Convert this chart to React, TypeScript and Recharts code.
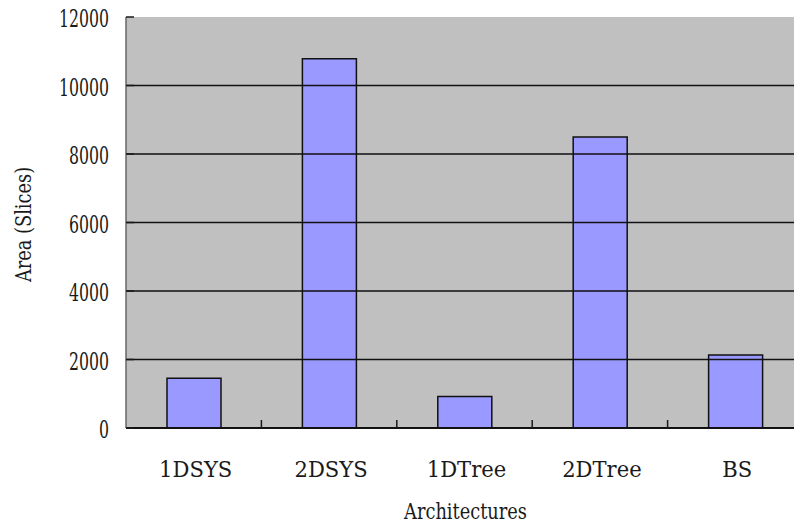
import { Bar, BarChart, CartesianGrid, Label, ReferenceLine, XAxis, YAxis } from "recharts"

const architectures = ["1DSYS", "2DSYS", "1DTree", "2DTree", "BS"]
const slices = [1450, 10780, 920, 8500, 2130]
const yTicks = [0, 2000, 4000, 6000, 8000, 10000, 12000]
const gridValues = [2000, 4000, 6000, 8000, 10000]

const data = architectures.map((name, i) => ({ name, slices: slices[i] }))

const FONT = "DejaVu Serif Condensed, DejaVu Serif, serif"
const INK = "#1a1a1a"

// narrow, tall serif text: condensed serif squeezed horizontally
const NarrowText = ({ x, y, size, sx, anchor = "middle", rotate = 0, children }: any) => (
  <text
    transform={`translate(${x},${y}) rotate(${rotate}) scale(${sx},1)`}
    textAnchor={anchor}
    fontFamily={FONT}
    fontSize={size}
    fill={INK}
  >
    {children}
  </text>
)

// y tick: label plus a short inward tick mark on the plot side
const YTick = (props: any) => {
  const { x, y, payload } = props
  const axisX = x + 18
  return (
    <g>
      <NarrowText x={x + 1} y={y + 10} size={25} sx={0.7} anchor="end">
        {payload.value}
      </NarrowText>
      <line x1={axisX} y1={y} x2={axisX + 8} y2={y} stroke={INK} strokeWidth={1.5} />
    </g>
  )
}

// x tick: category label plus an inward tick at the right edge of each band
const XTick = (props: any) => {
  const { x, y, payload, index, visibleTicksCount } = props
  const axisY = y - 31
  const edge = x + (payload.offset ?? 67.7)
  return (
    <g>
      <NarrowText x={x + 2} y={axisY + 49} size={23} sx={1.02}>
        {payload.value}
      </NarrowText>
      {index < visibleTicksCount - 1 && (
        <line x1={edge} y1={axisY} x2={edge} y2={axisY - 8} stroke={INK} strokeWidth={1.5} />
      )}
    </g>
  )
}

const XTitle = (props: any) => {
  const { viewBox } = props
  const cx = viewBox.x + viewBox.width / 2
  return (
    <NarrowText x={cx + 1} y={519} size={23} sx={0.86}>
      Architectures
    </NarrowText>
  )
}

const YTitle = (props: any) => {
  const { viewBox } = props
  const cy = viewBox.y + viewBox.height / 2
  return (
    <NarrowText x={31} y={cy + 2} size={23} sx={0.86} rotate={-90}>
      Area (Slices)
    </NarrowText>
  )
}

export default function App() {
  return (
    <div style={{ position: "absolute", left: 0, top: 0, width: 794, height: 525, overflow: "hidden", background: "#fff" }}>
      <BarChart
        width={803}
        height={525}
        data={data}
        margin={{ top: 17, right: 0, bottom: 0, left: 0 }}
        barSize={54}
      >
        <CartesianGrid horizontal={false} vertical={false} fill="#C0C0C0" />
        {gridValues.map((v) => (
          <ReferenceLine key={v} y={v} stroke="#111" strokeWidth={1.3} />
        ))}
        <XAxis
          dataKey="name"
          height={97}
          tickLine={false}
          tickSize={0}
          tickMargin={31}
          axisLine={{ stroke: "#111", strokeWidth: 2 }}
          tick={<XTick />}
        >
          <Label content={<XTitle />} />
        </XAxis>
        <YAxis
          width={126}
          domain={[0, 12000]}
          ticks={yTicks}
          tickLine={false}
          tickSize={0}
          tickMargin={18}
          axisLine={{ stroke: "#666", strokeWidth: 1.5 }}
          tick={<YTick />}
        >
          <Label content={<YTitle />} />
        </YAxis>
        <Bar dataKey="slices" fill="#9999FF" stroke="#111" strokeWidth={1.5} isAnimationActive={false} />
      </BarChart>
    </div>
  )
}
